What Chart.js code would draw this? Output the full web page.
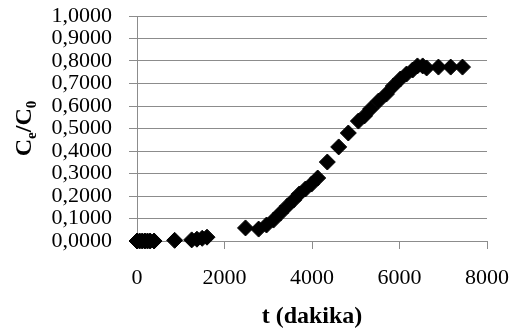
<!DOCTYPE html>
<html>
<head>
<meta charset="utf-8">
<script src="https://cdn.jsdelivr.net/npm/chart.js@4/dist/chart.umd.min.js"></script>
<style>
  html, body { margin: 0; padding: 0; background: #fff; }
  #wrap { width: 515px; height: 331px; }
</style>
</head>
<body>
<div id="wrap"><canvas id="chart" width="515" height="331"></canvas></div>
<script>
// t (dakika) vs Ce/C0
const tValues = [0, 60, 120, 180, 240, 300, 390, 860, 1250, 1370, 1490, 1600,
    2480, 2780, 2960, 3120, 3280, 3440, 3580, 3710, 3850, 3990, 4130,
    4350, 4610, 4830, 5060, 5200, 5340, 5520, 5700, 5860, 6020, 6160,
    6300, 6410, 6530, 6620, 6890, 7170, 7440];
const ceC0 = [0, 0, 0, 0, 0, 0, 0, 0.003, 0.005, 0.008, 0.012, 0.017,
    0.058, 0.053, 0.071, 0.093, 0.124, 0.156, 0.182, 0.209, 0.231, 0.253, 0.280,
    0.351, 0.418, 0.480, 0.533, 0.556, 0.587, 0.622, 0.653, 0.689, 0.720, 0.742,
    0.760, 0.778, 0.778, 0.769, 0.773, 0.773, 0.773];

const xTicks = [0, 2000, 4000, 6000, 8000];
const yTicks = [0, 0.1, 0.2, 0.3, 0.4, 0.5, 0.6, 0.7, 0.8, 0.9, 1.0];
const xTitle = 't (dakika)';

const serif = "'Liberation Serif', 'Times New Roman', serif";
const gridGray = '#8c8c8c';

const points = tValues.map((t, i) => ({ x: t, y: ceC0[i] }));

// axis titles drawn by hand, the y one needs subscripts
const titlesPlugin = {
    id: 'titles',
    afterDraw(chart) {
        const ctx = chart.ctx;
        const area = chart.chartArea;
        ctx.save();
        ctx.fillStyle = '#000';
        ctx.textBaseline = 'alphabetic';

        // x title
        ctx.font = 'bold 24px ' + serif;
        ctx.textAlign = 'center';
        ctx.fillText(xTitle, (area.left + area.right) / 2, 323);

        // y title: C_e / C_0
        const big = 'bold 24px ' + serif;
        const small = 'bold 15px ' + serif;
        const parts = [
            { s: 'C', f: big, dy: 0 },
            { s: 'e', f: small, dy: 5 },
            { s: '/C', f: big, dy: 0 },
            { s: '0', f: small, dy: 5 }
        ];
        let total = 0;
        parts.forEach(p => { ctx.font = p.f; p.w = ctx.measureText(p.s).width; total += p.w; });
        ctx.translate(31, (area.top + area.bottom) / 2);
        ctx.rotate(-Math.PI / 2);
        ctx.textAlign = 'left';
        let x = -total / 2;
        parts.forEach(p => {
            ctx.font = p.f;
            ctx.fillText(p.s, x, p.dy);
            x += p.w;
        });
        ctx.restore();
    }
};

const ctx = document.getElementById('chart').getContext('2d');
new Chart(ctx, {
    type: 'scatter',
    data: {
        datasets: [{
            data: points,
            pointStyle: 'rectRot',
            pointRadius: 8,
            backgroundColor: '#000',
            borderColor: '#000',
            borderWidth: 1,
            clip: false
        }]
    },
    options: {
        responsive: false,
        animation: false,
        layout: { padding: { top: 16, right: 28, left: 0, bottom: 0 } },
        plugins: {
            legend: { display: false },
            tooltip: { enabled: false }
        },
        scales: {
            x: {
                type: 'linear',
                min: 0,
                max: 8000,
                afterBuildTicks: s => { s.ticks = xTicks.map(v => ({ value: v })); },
                afterFit: s => { s.height = 90; s.paddingLeft = 0; s.paddingRight = 0; },
                grid: {
                    drawOnChartArea: false,
                    color: gridGray,
                    tickLength: 8
                },
                border: { color: gridGray },
                ticks: {
                    color: '#000',
                    font: { family: serif, size: 22 },
                    padding: 16,
                    maxRotation: 0,
                    autoSkip: false,
                    callback: v => String(v)
                }
            },
            y: {
                type: 'linear',
                min: 0,
                max: 1,
                afterBuildTicks: s => { s.ticks = yTicks.map(v => ({ value: v })); },
                afterFit: s => { s.width = 137; s.paddingTop = 0; s.paddingBottom = 0; },
                grid: {
                    color: gridGray,
                    tickLength: 8
                },
                border: { color: gridGray },
                ticks: {
                    color: '#000',
                    font: { family: serif, size: 22 },
                    padding: 17,
                    autoSkip: false,
                    callback: v => v.toFixed(4).replace('.', ',')
                }
            }
        }
    },
    plugins: [titlesPlugin]
});
</script>
</body>
</html>
